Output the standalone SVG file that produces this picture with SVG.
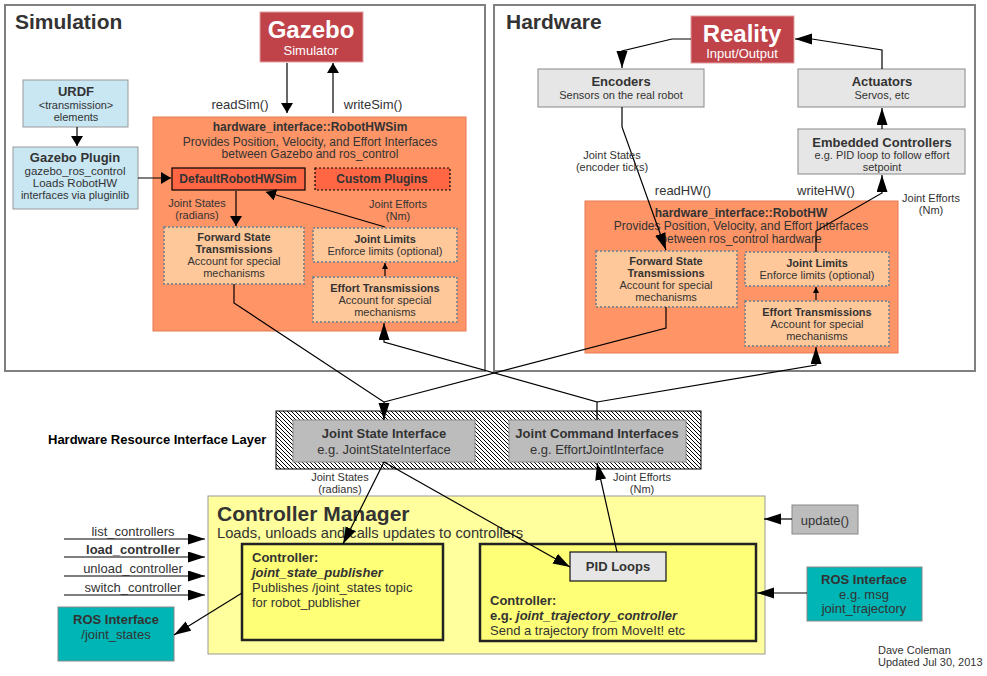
<svg xmlns="http://www.w3.org/2000/svg" width="987" height="676" viewBox="0 0 987 676">
<defs>
<style>
text{font-family:"Liberation Sans",Arial,sans-serif;fill:#333}
.c{text-anchor:middle}
.b{font-weight:bold}
.frame{fill:#fff;stroke:#808080;stroke-width:2}
.red{fill:#c0434a;stroke:#e0a0a0;stroke-width:1}
.blue{fill:#c8e7f3;stroke:#999;stroke-width:1}
.orange{fill:#ff9466;stroke:#e57a55;stroke-width:1}
.tomato{fill:#ff6644;stroke:#000;stroke-width:1.2}
.peach{fill:#ffc89a;stroke:#8a8a8a;stroke-width:2;stroke-dasharray:2 2}
.gray{fill:#e6e6e6;stroke:#888;stroke-width:1}
.dgray{fill:#bcbcbc;stroke:#888;stroke-width:1}
.yellow{fill:#ffff9e;stroke:#999;stroke-width:1}
.ctrl{fill:#ffff77;stroke:#222;stroke-width:2.5}
.teal{fill:#00b5b5;stroke:#888;stroke-width:1}
.w{fill:#fff}
.ln{fill:none;stroke:#000;stroke-width:1.2}
.L{marker-end:url(#mL)}
.S{marker-end:url(#mS)}
.T{marker-end:url(#mT)}
</style>
<marker id="mL" markerUnits="userSpaceOnUse" markerWidth="18" markerHeight="12" refX="17" refY="5.5" orient="auto"><path d="M0,0 L17,5.5 L0,11 z" fill="#000"/></marker>
<marker id="mS" markerUnits="userSpaceOnUse" markerWidth="11" markerHeight="12" refX="10" refY="6" orient="auto"><path d="M0,0 L10,6 L0,12 z" fill="#000"/></marker>
<marker id="mT" markerUnits="userSpaceOnUse" markerWidth="7" markerHeight="7" refX="6" refY="3" orient="auto"><path d="M0,0 L6,3 L0,6 z" fill="#000"/></marker>
<pattern id="hatch" patternUnits="userSpaceOnUse" width="4" height="4">
<rect width="4" height="4" fill="#fff"/>
<path d="M-1,-1 L5,5 M-1,3 L1,5 M3,-1 L5,1" stroke="#000" stroke-width="1"/>
</pattern>
</defs>

<g id="simulation-frame"><rect class="frame" x="5" y="5" width="480" height="366"/><text x="15" y="29" class="b" font-size="21">Simulation</text></g>
<g id="hardware-frame"><rect class="frame" x="494" y="5" width="481" height="366"/><text x="506" y="29" class="b" font-size="21">Hardware</text></g>

<g id="gazebo"><rect class="red" x="260" y="12" width="103" height="50"/><text x="311" y="38" class="c b w" font-size="24">Gazebo</text><text x="311" y="55" class="c w" font-size="13">Simulator</text></g>
<g id="urdf"><rect class="blue" x="23" y="80" width="105" height="47"/><text x="76" y="96" class="c b" font-size="13">URDF</text><text x="76" y="109" class="c" font-size="11">&lt;transmission&gt;</text><text x="76" y="121" class="c" font-size="11">elements</text></g>
<g id="gazebo-plugin"><rect class="blue" x="13" y="147" width="125" height="62"/><text x="75" y="162" class="c b" font-size="13">Gazebo Plugin</text><text x="75" y="175" class="c" font-size="11.5">gazebo_ros_control</text><text x="75" y="187" class="c" font-size="11.5">Loads RobotHW</text><text x="75" y="199" class="c" font-size="11">interfaces via pluginlib</text></g>
<g id="robothwsim"><rect class="orange" x="153" y="117" width="313" height="214"/><text x="310" y="131" class="c b" font-size="12">hardware_interface::RobotHWSim</text><text x="310" y="146" class="c" font-size="12">Provides Position, Velocity, and Effort Interfaces</text><text x="310" y="158" class="c" font-size="12">between Gazebo and ros_control</text></g>
<g id="default-robothwsim"><rect class="tomato" x="172" y="168" width="133" height="22"/><text x="238" y="183" class="c b" font-size="12">DefaultRobotHWSim</text></g>
<g id="custom-plugins"><rect class="tomato" x="315" y="168" width="135" height="22" stroke-dasharray="2 2"/><text x="382" y="183" class="c b" font-size="12">Custom Plugins</text></g>
<g id="sim-fst"><rect class="peach" x="164" y="227" width="140" height="57"/><text x="234" y="241" class="c b" font-size="11">Forward State</text><text x="234" y="253" class="c b" font-size="11">Transmissions</text><text x="234" y="265" class="c" font-size="11">Account for special</text><text x="234" y="277" class="c" font-size="11">mechanisms</text></g>
<g id="sim-joint-limits"><rect class="peach" x="313" y="228" width="144" height="34"/><text x="385" y="243" class="c b" font-size="11">Joint Limits</text><text x="385" y="255" class="c" font-size="11">Enforce limits (optional)</text></g>
<g id="sim-effort"><rect class="peach" x="313" y="277" width="144" height="45"/><text x="385" y="292" class="c b" font-size="11">Effort Transmissions</text><text x="385" y="304" class="c" font-size="11">Account for special</text><text x="385" y="316" class="c" font-size="11">mechanisms</text></g>

<g id="reality"><rect class="red" x="691" y="16" width="103" height="47"/><text x="742" y="42" class="c b w" font-size="24">Reality</text><text x="742" y="58" class="c w" font-size="13">Input/Output</text></g>
<g id="encoders"><rect class="gray" x="538" y="69" width="166" height="38"/><text x="621" y="86" class="c b" font-size="13">Encoders</text><text x="621" y="99" class="c" font-size="11">Sensors on the real robot</text></g>
<g id="actuators"><rect class="gray" x="798" y="69" width="167" height="38"/><text x="882" y="86" class="c b" font-size="13">Actuators</text><text x="882" y="99" class="c" font-size="11">Servos, etc</text></g>
<g id="embedded"><rect class="gray" x="798" y="129" width="167" height="45"/><text x="882" y="147" class="c b" font-size="13">Embedded Controllers</text><text x="882" y="159" class="c" font-size="11">e.g. PID loop to follow effort</text><text x="882" y="171" class="c" font-size="11">setpoint</text></g>
<g id="robothw"><rect class="orange" x="585" y="201" width="313" height="152"/><text x="741" y="217" class="c b" font-size="12">hardware_interface::RobotHW</text><text x="741" y="230" class="c" font-size="12">Provides Position, Velocity, and Effort Interfaces</text><text x="741" y="243" class="c" font-size="12">between ros_control hardware</text></g>
<g id="hw-fst"><rect class="peach" x="596" y="251" width="141" height="56"/><text x="666" y="265" class="c b" font-size="11">Forward State</text><text x="666" y="277" class="c b" font-size="11">Transmissions</text><text x="666" y="289" class="c" font-size="11">Account for special</text><text x="666" y="301" class="c" font-size="11">mechanisms</text></g>
<g id="hw-joint-limits"><rect class="peach" x="745" y="252" width="144" height="34"/><text x="817" y="267" class="c b" font-size="11">Joint Limits</text><text x="817" y="279" class="c" font-size="11">Enforce limits (optional)</text></g>
<g id="hw-effort"><rect class="peach" x="745" y="301" width="144" height="45"/><text x="817" y="316" class="c b" font-size="11">Effort Transmissions</text><text x="817" y="328" class="c" font-size="11">Account for special</text><text x="817" y="340" class="c" font-size="11">mechanisms</text></g>

<g id="interface-layer"><rect x="276" y="411" width="425" height="58" fill="url(#hatch)" stroke="#000" stroke-width="1"/><text x="48" y="444" class="b" font-size="13" style="fill:#000">Hardware Resource Interface Layer</text></g>
<g id="joint-state-interface"><rect class="dgray" x="293" y="420" width="182" height="42"/><text x="384" y="438" class="c b" font-size="13">Joint State Interface</text><text x="384" y="454" class="c" font-size="13">e.g. JointStateInterface</text></g>
<g id="joint-command-interfaces"><rect class="dgray" x="509" y="420" width="177" height="42"/><text x="597" y="438" class="c b" font-size="13">Joint Command Interfaces</text><text x="597" y="454" class="c" font-size="13">e.g. EffortJointInterface</text></g>

<g id="controller-manager"><rect class="yellow" x="208" y="496" width="557" height="158"/><text x="217" y="521" class="b" font-size="21">Controller Manager</text><text x="217" y="538" font-size="14.7">Loads, unloads and calls updates to controllers</text></g>
<g id="jsp-controller"><rect class="ctrl" x="242" y="544" width="201" height="96"/><text x="252" y="562" class="b" font-size="13">Controller:</text><text x="252" y="577" class="b" font-size="13" font-style="italic">joint_state_publisher</text><text x="252" y="592" font-size="13">Publishes /joint_states topic</text><text x="252" y="607" font-size="13">for robot_publisher</text></g>
<g id="jtc-controller"><rect class="ctrl" x="480" y="544" width="276" height="97"/><text x="490" y="605" class="b" font-size="13">Controller:</text><text x="490" y="620" class="b" font-size="13">e.g. <tspan font-style="italic">joint_trajectory_controller</tspan></text><text x="490" y="635" font-size="13">Send a trajectory from MoveIt! etc</text></g>
<g id="pid-loops"><rect x="570" y="552" width="96" height="29" fill="#e6e6e6" stroke="#111" stroke-width="1.2"/><text x="618" y="571" class="c b" font-size="13">PID Loops</text></g>
<g id="ros-joint-states"><rect class="teal" x="58" y="607" width="116" height="54"/><text x="116" y="624" class="c b" font-size="13">ROS Interface</text><text x="116" y="639" class="c" font-size="13">/joint_states</text></g>
<g id="update"><rect class="dgray" x="792" y="505" width="66" height="29"/><text x="825" y="525" class="c" font-size="13">update()</text></g>
<g id="ros-trajectory"><rect class="teal" x="807" y="567" width="115" height="54"/><text x="864" y="584" class="c b" font-size="13">ROS Interface</text><text x="864" y="599" class="c" font-size="13">e.g. msg</text><text x="864" y="613" class="c" font-size="13">joint_trajectory</text></g>

<g id="connectors">
<line class="ln S" x1="287" y1="63" x2="287" y2="113"/>
<line class="ln S" x1="333" y1="113" x2="333" y2="63"/>
<line class="ln S" x1="77" y1="127" x2="77" y2="146"/>
<line class="ln S" x1="138" y1="178" x2="171" y2="178"/>
<line class="ln S" x1="236" y1="191" x2="236" y2="226"/>
<line class="ln S" x1="385" y1="227" x2="266" y2="192"/>
<line class="ln T" x1="385" y1="276" x2="385" y2="263"/>
<polyline class="ln L" points="234,284 234,303 384,402 384,420"/>
<polyline class="ln L" points="597,420 597,402 384,342 384,323"/>
<polyline class="ln L" points="597,402 816,365 816,347"/>
<polyline class="ln" points="666,307 666,328 384,402"/>
<polyline class="ln L" points="622,107 622,127 666,250"/>
<polyline class="ln L" points="816,252 816,231 882,193 882,175"/>
<line class="ln T" x1="816" y1="300" x2="816" y2="287"/>
<line class="ln L" x1="882" y1="129" x2="882" y2="108"/>
<polyline class="ln L" points="882,69 882,50 812,39 795,39"/>
<polyline class="ln L" points="691,39 672,39 622,51 622,68"/>
<line class="ln L" x1="384" y1="462" x2="343" y2="544"/>
<line class="ln L" x1="384" y1="462" x2="570" y2="567"/>
<line class="ln L" x1="617" y1="552" x2="597" y2="463"/>
<line class="ln L" x1="242" y1="593" x2="174" y2="635"/>
<line class="ln L" x1="64" y1="539" x2="205" y2="539"/>
<line class="ln L" x1="64" y1="557" x2="205" y2="557"/>
<line class="ln L" x1="64" y1="576" x2="205" y2="576"/>
<line class="ln L" x1="64" y1="595" x2="205" y2="595"/>
<line class="ln L" x1="792" y1="519" x2="764" y2="519"/>
<line class="ln L" x1="807" y1="593" x2="757" y2="593"/>
</g>

<g id="labels">
<text x="240" y="109" class="c" font-size="13">readSim()</text>
<text x="373" y="109" class="c" font-size="13">writeSim()</text>
<text x="197" y="207" class="c" font-size="11">Joint States</text>
<text x="197" y="219" class="c" font-size="11">(radians)</text>
<text x="398" y="208" class="c" font-size="11">Joint Efforts</text>
<text x="398" y="220" class="c" font-size="11">(Nm)</text>
<text x="612" y="159" class="c" font-size="11">Joint States</text>
<text x="612" y="171" class="c" font-size="11">(encoder ticks)</text>
<text x="683" y="195" class="c" font-size="13">readHW()</text>
<text x="826" y="195" class="c" font-size="13">writeHW()</text>
<text x="931" y="202" class="c" font-size="11">Joint Efforts</text>
<text x="931" y="214" class="c" font-size="11">(Nm)</text>
<text x="340" y="481" class="c" font-size="11">Joint States</text>
<text x="340" y="493" class="c" font-size="11">(radians)</text>
<text x="642" y="481" class="c" font-size="11">Joint Efforts</text>
<text x="642" y="493" class="c" font-size="11">(Nm)</text>
<text x="133" y="536" class="c" font-size="13">list_controllers</text>
<text x="133" y="554" class="c b" font-size="13">load_controller</text>
<text x="133" y="573" class="c" font-size="13">unload_controller</text>
<text x="133" y="592" class="c" font-size="13">switch_controller</text>
<text x="878" y="654" font-size="11">Dave Coleman</text>
<text x="878" y="666" font-size="11">Updated Jul 30, 2013</text>
</g>
</svg>
